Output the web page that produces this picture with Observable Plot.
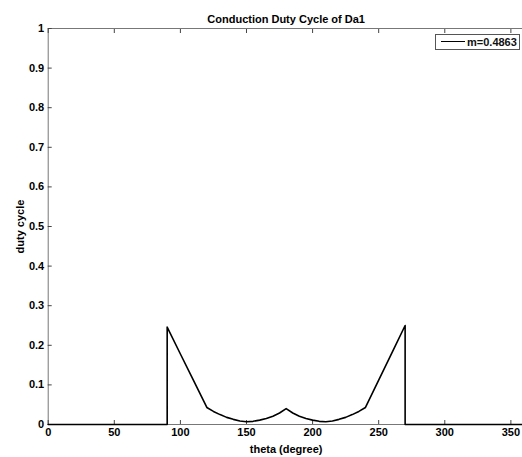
<!DOCTYPE html>
<html>
<head>
<meta charset="utf-8">
<script src="https://cdn.jsdelivr.net/npm/d3@7"></script>
<script src="https://cdn.jsdelivr.net/npm/@observablehq/plot@0.6"></script>
<style>
  html, body { margin: 0; padding: 0; background: #fff; }
  #chart { position: relative; width: 522px; height: 457px; overflow: hidden; }
  #legend {
    position: absolute; left: 435px; top: 34px; width: 85px; height: 16px;
    border: 1px solid #555; background: #fff; box-sizing: border-box;
    font: bold 11px "Liberation Sans", Arial, sans-serif; color: #111;
  }
  #legend .swatch { position: absolute; left: 5px; top: 6px; width: 24px; border-top: 1.3px solid #000; }
  #legend .lab { position: absolute; left: 31px; top: 0px; line-height: 14px; }
</style>
</head>
<body>
<div id="chart"></div>
<script>
const title = "Conduction Duty Cycle of Da1";
const xLabel = "theta (degree)";
const yLabel = "duty cycle";
const seriesName = "m=0.4863";
const xTicks = [0, 50, 100, 150, 200, 250, 300, 350];
const yTicks = [0, 0.1, 0.2, 0.3, 0.4, 0.5, 0.6, 0.7, 0.8, 0.9, 1];
const yTickLabels = ["0", "0.1", "0.2", "0.3", "0.4", "0.5", "0.6", "0.7", "0.8", "0.9", "1"];

const theta = [0, 90, 90, 100, 110, 120, 125, 130, 135, 140, 145, 150, 155, 160, 165, 170, 175, 180,
               185, 190, 195, 200, 205, 210, 215, 220, 225, 230, 235, 240, 250, 260, 270, 270, 360];
const duty  = [0, 0, 0.246, 0.178, 0.111, 0.043, 0.033, 0.025, 0.018, 0.013, 0.009, 0.007, 0.008, 0.011, 0.015, 0.021, 0.029, 0.040,
               0.029, 0.021, 0.015, 0.011, 0.008, 0.007, 0.009, 0.013, 0.018, 0.025, 0.033, 0.043, 0.112, 0.181, 0.250, 0, 0];

const data = theta.map((t, i) => ({theta: t, duty: duty[i]}));

const font = '"Liberation Sans", Arial, sans-serif';
const mL = 47.7, mR = -1.6, mT = 28, mB = 33;

const chart = Plot.plot({
  width: 522,
  height: 457,
  marginLeft: mL,
  marginRight: mR,
  marginTop: mT,
  marginBottom: mB,
  style: {fontFamily: font, fontSize: "11px", fontWeight: "bold", color: "#000", background: "#fff"},
  x: {domain: [0, 360], range: [mL, 522 - mR]},
  y: {domain: [0, 1], range: [457 - mB, mT]},
  marks: [
    Plot.frame({stroke: "#777", strokeWidth: 1}),
    // inward ticks
    Plot.axisX(xTicks, {anchor: "bottom", tickSize: -4, tickFormat: () => "", stroke: "#444", label: null}),
    Plot.axisX(xTicks, {anchor: "top", tickSize: -4, tickFormat: () => "", stroke: "#444", label: null}),
    Plot.axisY(yTicks, {anchor: "left", tickSize: -4, tickFormat: () => "", stroke: "#444", label: null}),
    // labels
    Plot.axisX(xTicks, {anchor: "bottom", tickSize: 0, tickPadding: 4, tickFormat: d => String(d),
      label: xLabel, labelAnchor: "center", labelArrow: "none", labelOffset: 28}),
    Plot.axisY(yTicks, {anchor: "left", tickSize: 0, tickPadding: 4, tickFormat: (d, i) => yTickLabels[i],
      label: yLabel, labelAnchor: "center", labelArrow: "none", labelOffset: 32}),
    Plot.line(data, {x: "theta", y: "duty", stroke: "#000", strokeWidth: 1.6}),
    Plot.text([title], {frameAnchor: "top", dy: -13, fontSize: 11, fontWeight: "bold", text: d => d})
  ]
});

const host = document.getElementById("chart");
host.appendChild(chart);
const legend = document.createElement("div");
legend.id = "legend";
legend.innerHTML = '<div class="swatch"></div><div class="lab"></div>';
legend.querySelector(".lab").textContent = seriesName;
host.appendChild(legend);
</script>
</body>
</html>
